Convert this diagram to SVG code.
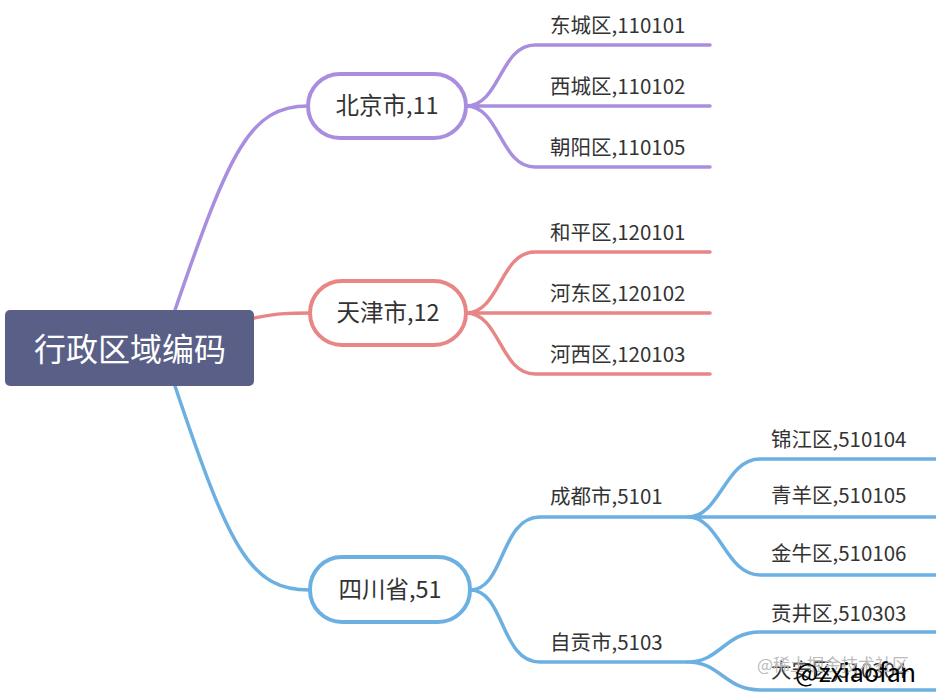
<svg xmlns="http://www.w3.org/2000/svg" width="936" height="695" viewBox="0 0 936 695">
<style>
text{font-family:"Noto Sans CJK SC","Liberation Sans",sans-serif;fill:#333}
.l{font-size:20.5px}
.m{font-size:23.5px;text-anchor:middle}
.c{fill:none;stroke-width:3.5;stroke-linecap:round}
.p{stroke:#a98ee0}.r{stroke:#e88585}.b{stroke:#6cb0e2}
.pill{fill:#fff;stroke-width:4}
</style>
<rect width="936" height="695" fill="#fff"/>
<g id="connectors">
<path class="c p" d="M175 310 C230 150 250 106 308 106"/>
<path class="c r" d="M254 318 C280 313 290 313 310 313"/>
<path class="c b" d="M175 386 C230 550 250 590 310 590"/>
<path class="c p" d="M466 106 C500 106 500 45 535 45 H710 M466 106 H710 M466 106 C500 106 500 167 535 167 H710"/>
<path class="c r" d="M466 313 C500 313 500 252 535 252 H710 M466 313 H710 M466 313 C500 313 500 374 535 374 H710"/>
<path class="c b" d="M470 590 C505 590 500 517 540 517 H688 M470 590 C505 590 500 662 540 662 H688"/>
<path class="c b" d="M688 517 C720 517 725 459 760 459 H936 M688 517 H936 M688 517 C720 517 725 575 760 575 H936"/>
<path class="c b" d="M688 662 C720 662 725 632 760 632 H936 M688 662 C720 662 725 690 760 690 H936"/>
</g>
<g id="root"><rect x="5" y="310" width="249" height="76" rx="5" fill="#5a5f87"/><text x="130" y="361" font-size="32" text-anchor="middle" style="fill:#fff">行政区域编码</text></g>
<g id="beijing"><rect class="pill p" x="308" y="74" width="158" height="64" rx="32"/><text class="m" x="387" y="114">北京市,11</text></g>
<g id="tianjin"><rect class="pill r" x="310" y="281" width="156" height="64" rx="32"/><text class="m" x="388" y="321">天津市,12</text></g>
<g id="sichuan"><rect class="pill b" x="310" y="557" width="160" height="65" rx="32"/><text class="m" x="390" y="598">四川省,51</text></g>
<g id="leaves">
<text class="l" x="550" y="33">东城区,110101</text>
<text class="l" x="550" y="94">西城区,110102</text>
<text class="l" x="550" y="155">朝阳区,110105</text>
<text class="l" x="550" y="240">和平区,120101</text>
<text class="l" x="550" y="301">河东区,120102</text>
<text class="l" x="550" y="362">河西区,120103</text>
<text class="l" x="550" y="504">成都市,5101</text>
<text class="l" x="550" y="650">自贡市,5103</text>
<text class="l" x="771" y="447">锦江区,510104</text>
<text class="l" x="771" y="503">青羊区,510105</text>
<text class="l" x="771" y="561">金牛区,510106</text>
<text class="l" x="771" y="621">贡井区,510303</text>
<text class="l" x="771" y="678">大安区,510304</text>
</g>
<g id="watermark">
<text x="757" y="671" font-size="17" style="fill:#bbb">@稀土掘金技术社区</text>
<text x="795" y="682" font-size="25" style="fill:#000">@zxiaofan</text>
</g>
</svg>
